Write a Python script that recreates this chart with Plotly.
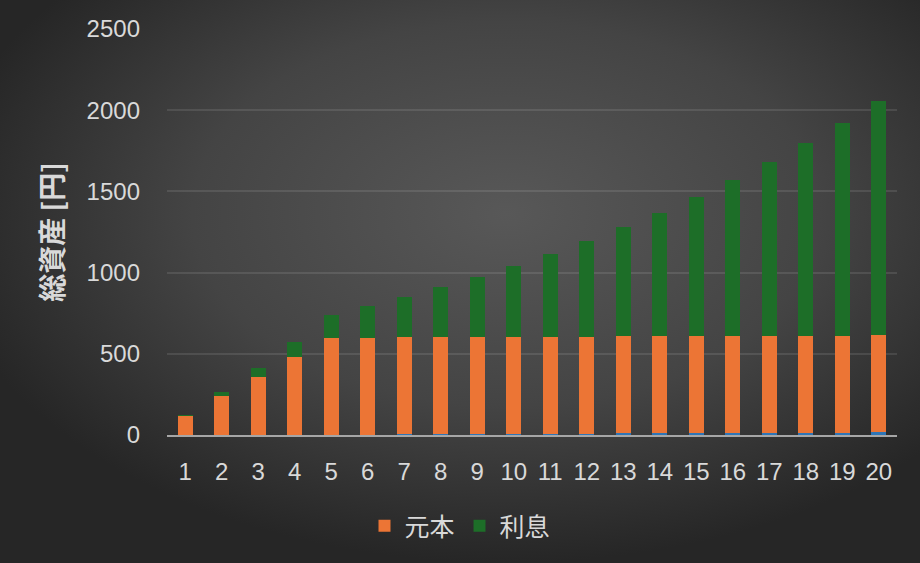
import base64
import plotly.graph_objects as go

years = [str(i) for i in range(1, 21)]
other = [0, 0, 0, 0, 0, 0, 5, 5, 5, 6, 6, 6, 10, 10, 10, 12, 12, 12, 12, 18]
principal = [120, 240, 360, 480, 600, 600, 600, 600, 600, 600,
             600, 600, 600, 600, 600, 600, 600, 600, 600, 600]
interest = [3, 25, 53, 93, 139, 194, 245, 306, 368, 435,
            509, 589, 671, 757, 856, 958, 1069, 1186, 1309, 1439]
y_ticks = [0, 500, 1000, 1500, 2000, 2500]

W, H = 920, 563
L, R, T, B = 167, 23, 29, 128
pw, ph = W - L - R, H - T - B

svg = f'''<svg xmlns="http://www.w3.org/2000/svg" width="{W}" height="{H}" viewBox="0 0 {W} {H}" preserveAspectRatio="none">
<defs><radialGradient id="g" cx="0.55" cy="0.38" r="0.62">
<stop offset="0" stop-color="#585858"/><stop offset="0.55" stop-color="#444444"/><stop offset="1" stop-color="#262626"/>
</radialGradient></defs><rect width="{W}" height="{H}" fill="url(#g)"/></svg>'''
src = "data:image/svg+xml;base64," + base64.b64encode(svg.encode()).decode()

FONT = "Liberation Sans, Arial, Noto Sans CJK JP"
TXT = "#d9d9d9"

fig = go.Figure()
fig.add_trace(go.Bar(x=years, y=other, name="その他", marker_color="#2e75b6",
                     showlegend=False, marker_line_width=0))
fig.add_trace(go.Bar(x=years, y=principal, name="元本", marker_color="#ec7535",
                     marker_line_width=0))
fig.add_trace(go.Bar(x=years, y=interest, name="利息", marker_color="#1d6e28",
                     marker_line_width=0))

fig.update_layout(
    width=W, height=H,
    barmode="stack", bargap=0.59,
    margin=dict(l=L, r=R, t=T, b=B, autoexpand=False),
    paper_bgcolor="#3c3c3c", plot_bgcolor="rgba(0,0,0,0)",
    font=dict(family=FONT, size=24, color=TXT),
    images=[dict(source=src, xref="paper", yref="paper",
                 x=-L / pw, y=1 + T / ph, sizex=W / pw, sizey=H / ph,
                 xanchor="left", yanchor="top", sizing="stretch", layer="below")],
    legend=dict(orientation="h", xref="container", yref="container",
                x=0.5, xanchor="center", y=1 - 526 / H, yanchor="middle",
                font=dict(family="Noto Sans CJK JP", size=25, color=TXT),
                itemwidth=30, traceorder="normal", bgcolor="rgba(0,0,0,0)"),
    xaxis=dict(showgrid=False, showline=True, linecolor="#a6a6a6", linewidth=2,
               ticks="", tickfont=dict(size=24, color=TXT), ticklabelstandoff=14),
    yaxis=dict(range=[0, 2500], tickvals=y_ticks, showgrid=True,
               gridcolor="rgba(255,255,255,0.10)", gridwidth=1.5, zeroline=False,
               ticks="", tickfont=dict(size=24, color=TXT), ticklabelstandoff=26,
               title=dict(text="総資産 [円]", standoff=14,
                          font=dict(family="Noto Sans CJK JP", size=28, color=TXT,
                                    weight="bold"))),
)

fig.write_html("out.html", config={"displayModeBar": False},
               post_script="document.body.style.margin='0';document.body.style.background='#262626';")
